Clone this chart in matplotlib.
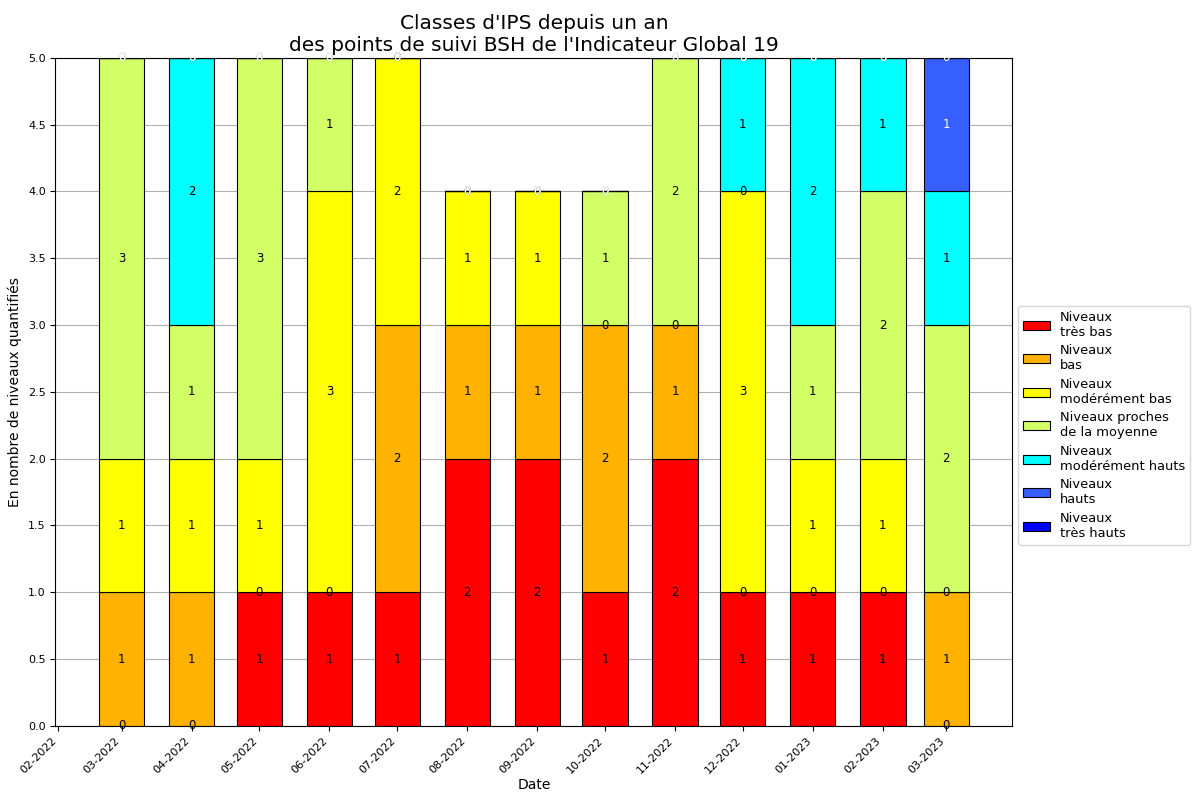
import matplotlib
matplotlib.use("Agg")
import matplotlib.pyplot as plt
import matplotlib.dates as mdates
import numpy as np
import datetime as dt

months = ["2022-03", "2022-04", "2022-05", "2022-06", "2022-07", "2022-08", "2022-09",
          "2022-10", "2022-11", "2022-12", "2023-01", "2023-02", "2023-03"]

categories = ["Niveaux\ntrès bas", "Niveaux\nbas", "Niveaux\nmodérément bas",
              "Niveaux proches\nde la moyenne", "Niveaux\nmodérément hauts",
              "Niveaux\nhauts", "Niveaux\ntrès hauts"]
colors = ["#FF0000", "#FFB200", "#FFFF00", "#D3FF66", "#00FFFF", "#375FFF", "#0000FF"]
text_colors = ["black", "black", "black", "black", "black", "white", "white"]

tres_bas        = [0, 0, 1, 1, 1, 2, 2, 1, 2, 1, 1, 1, 0]
bas             = [1, 1, 0, 0, 2, 1, 1, 2, 1, 0, 0, 0, 1]
moderement_bas  = [1, 1, 1, 3, 2, 1, 1, 0, 0, 3, 1, 1, 0]
proches         = [3, 1, 3, 1, 0, 0, 0, 1, 2, 0, 1, 2, 2]
moderement_hauts= [0, 2, 0, 0, 0, 0, 0, 0, 0, 1, 2, 1, 1]
hauts           = [0, 0, 0, 0, 0, 0, 0, 0, 0, 0, 0, 0, 1]
tres_hauts      = [0, 0, 0, 0, 0, 0, 0, 0, 0, 0, 0, 0, 0]

series = [tres_bas, bas, moderement_bas, proches, moderement_hauts, hauts, tres_hauts]

dates = [dt.datetime.strptime(m, "%Y-%m") for m in months]

fig = plt.figure(figsize=(11.93, 7.92), dpi=100)
ax = fig.add_axes([0.0465, 0.0835, 0.802, 0.8435])
ax.set_axisbelow(True)
ax.yaxis.grid(True, color="#b0b0b0", linewidth=0.8)

bottom = np.zeros(len(dates))
for vals, col, lab, tc in zip(series, colors, categories, text_colors):
    vals = np.array(vals, dtype=float)
    ax.bar(dates, vals, width=20, bottom=bottom, color=col, edgecolor="black",
           linewidth=0.8, label=lab)
    for d, v, b in zip(dates, vals, bottom):
        ax.text(d, b + v / 2, f"{int(v)}", ha="center", va="center",
                fontsize=8.5, color=tc)
    bottom = bottom + vals

ax.set_ylim(0, 5)
ax.set_yticks(np.arange(0, 5.01, 0.5))
ax.yaxis.set_major_formatter(matplotlib.ticker.FormatStrFormatter("%.1f"))
ax.tick_params(axis="both", labelsize=8)
ax.xaxis.set_major_locator(mdates.MonthLocator())
ax.xaxis.set_major_formatter(mdates.DateFormatter("%m-%Y"))
plt.setp(ax.get_xticklabels(), rotation=45, ha="right", fontsize=8)
ax.set_xlabel("Date", fontsize=10, labelpad=2)
ax.set_ylabel("En nombre de niveaux quantifiés", fontsize=10)
ax.set_title("Classes d'IPS depuis un an\ndes points de suivi BSH de l'Indicateur Global 19",
             fontsize=14.5, pad=5)

fig.legend(loc="upper left", bbox_to_anchor=(0.8535, 0.614), fontsize=9.4,
           handlelength=2.0, labelspacing=0.42, borderaxespad=0)

fig.savefig("out.png", dpi=100)
